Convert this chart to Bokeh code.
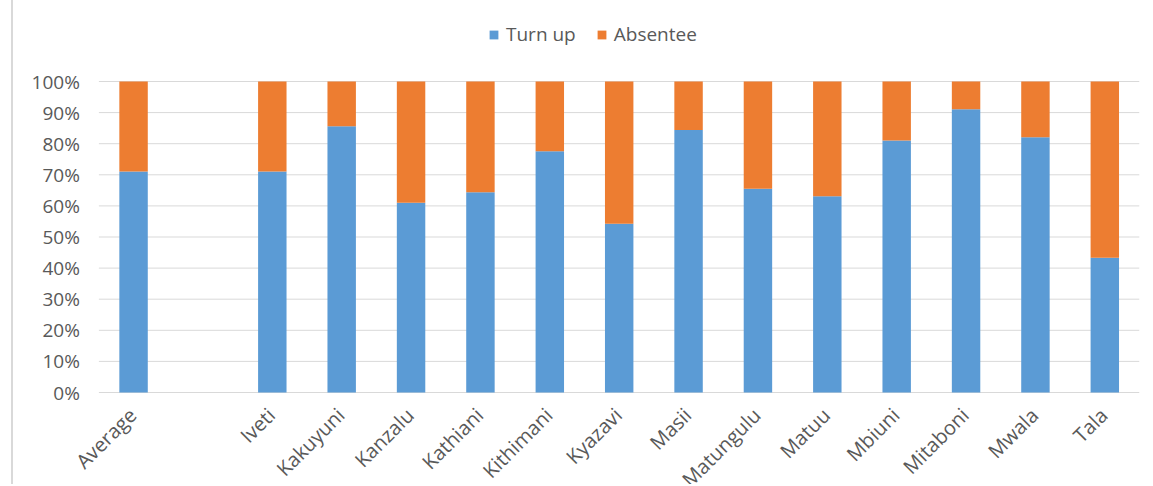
import math
from bokeh.plotting import figure
from bokeh.models import FactorRange, Range1d, Legend, LegendItem, ColumnDataSource
from bokeh.transform import dodge
from bokeh.core.properties import value
from bokeh.embed import file_html
from bokeh.resources import INLINE

categories = ["Average", " ", "Iveti", "Kakuyuni", "Kanzalu", "Kathiani", "Kithimani",
              "Kyazavi", "Masii", "Matungulu", "Matuu", "Mbiuni", "Mitaboni", "Mwala", "Tala"]
turn_up = [0.711, 0.0, 0.711, 0.856, 0.610, 0.644, 0.776,
           0.543, 0.844, 0.655, 0.631, 0.810, 0.911, 0.821, 0.433]
absentee = [0.0 if c == " " else round(1 - t, 3) for c, t in zip(categories, turn_up)]
y_ticks = [0.0, 0.1, 0.2, 0.3, 0.4, 0.5, 0.6, 0.7, 0.8, 0.9, 1.0]
y_tick_labels = ["0%", "10%", "20%", "30%", "40%", "50%", "60%", "70%", "80%", "90%", "100%"]

FONT = "Open Sans"
GRAY = "#595959"
GRID = "#d9d9d9"
BLUE = "#5B9BD5"
ORANGE = "#ED7D31"
PAD = "  "   # empty slot left of the bars, holds the value labels

source = ColumnDataSource({"cat": categories, "Turn up": turn_up, "Absentee": absentee,
                           "base": [0.0] * len(categories)})
grid_src = ColumnDataSource({"y": y_ticks, "label": y_tick_labels,
                             "first": [categories[0]] * len(y_ticks),
                             "last": [categories[-1]] * len(y_ticks),
                             "pad": [PAD] * len(y_ticks)})

# frame spans the full height; 0..1 occupies 311px (1.0 at y=82, 0 at y=393)
H = 484
px_per_unit = 311.0
y_end = 1 + (82 - 1) / px_per_unit
y_start = -((H + 1) - 393) / px_per_unit

x_range = FactorRange(*([PAD] + categories), range_padding=0)
p = figure(x_range=x_range, y_range=Range1d(y_start, y_end),
           width=1135, height=H, output_backend="svg", toolbar_location=None,
           min_border_left=16, min_border_right=9, min_border_top=0, min_border_bottom=0)
p.styles = {"border-left": "2px solid #d9d9d9", "margin-left": "11px"}

# horizontal gridlines, only across the category slots
p.segment(x0=dodge("first", -0.5, range=x_range), x1=dodge("last", 0.5, range=x_range),
          y0="y", y1="y", source=grid_src, line_color=GRID, line_width=1)

rs = p.vbar_stack(["Turn up", "Absentee"], x="cat", width=0.41, source=source,
                  color=[BLUE, ORANGE], line_color=None)

# value axis labels
p.text(x=dodge("pad", 0.5, range=x_range), y="y", text="label", source=grid_src,
       x_offset=-19, text_align="right", text_baseline="middle",
       text_font=value(FONT), text_font_size=value("19px"), text_color=GRAY)

# category labels, rotated 45 degrees under the axis
p.text(x="cat", y="base", text="cat", source=source, angle=math.pi / 4,
       x_offset=-1, y_offset=19, text_align="right", text_baseline="middle",
       text_font=value(FONT), text_font_size=value("20px"), text_color=GRAY)

p.outline_line_color = None
p.xaxis.visible = False
p.yaxis.visible = False
p.xgrid.grid_line_color = None
p.ygrid.grid_line_color = None

legend = Legend(items=[LegendItem(label="Turn up", renderers=[rs[0]]),
                       LegendItem(label="Absentee", renderers=[rs[1]])],
                orientation="horizontal", location=(459, 437),
                glyph_width=11, glyph_height=11, label_standoff=7, spacing=20,
                padding=0, margin=0, border_line_color=None, background_fill_alpha=0,
                label_text_font=FONT, label_text_font_size="19px", label_text_color=GRAY)
p.add_layout(legend, "center")

open("out.html", "w").write(file_html(p, INLINE))
